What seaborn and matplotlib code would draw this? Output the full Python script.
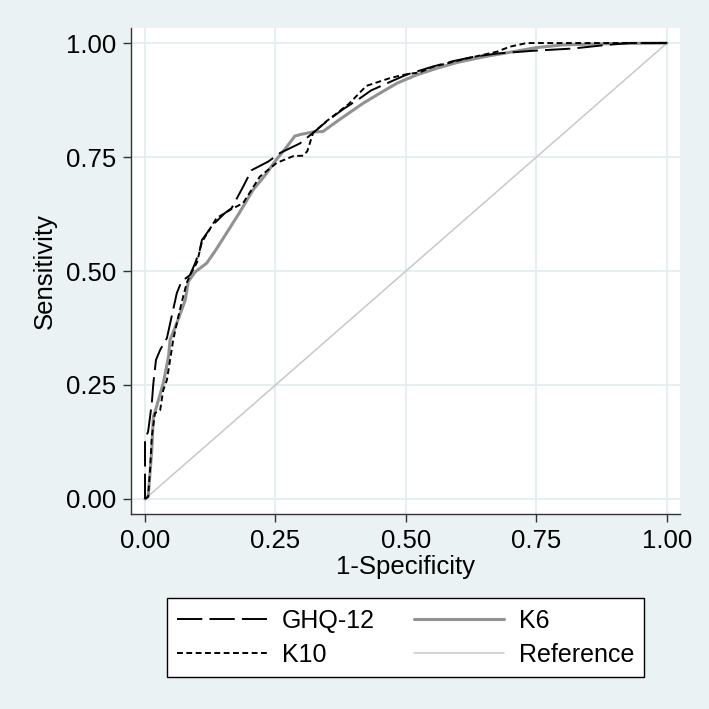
import numpy as np
import pandas as pd
import seaborn as sns
import matplotlib.pyplot as plt

# ROC points (1-specificity, sensitivity)
ghq_fpr = [0, 0, 0.006, 0.013, 0.016, 0.021, 0.029, 0.042, 0.051, 0.061, 0.07, 0.086, 0.096,
           0.105, 0.109, 0.13, 0.153, 0.166, 0.188, 0.204, 0.236, 0.259, 0.297, 0.322, 0.35,
           0.381, 0.412, 0.433, 0.47, 0.502, 0.55, 0.589, 0.63, 0.674, 0.743, 0.82, 0.885, 0.93, 1]
ghq_tpr = [0, 0.13, 0.148, 0.21, 0.254, 0.305, 0.327, 0.353, 0.40, 0.452, 0.477, 0.491, 0.517,
           0.546, 0.568, 0.601, 0.627, 0.638, 0.685, 0.721, 0.74, 0.759, 0.78, 0.803, 0.83,
           0.856, 0.879, 0.896, 0.915, 0.931, 0.948, 0.96, 0.97, 0.977, 0.983, 0.988, 0.996, 1.0, 1]

k10_fpr = [0, 0.006, 0.01, 0.013, 0.019, 0.029, 0.035, 0.042, 0.048, 0.054, 0.061, 0.07, 0.08,
           0.086, 0.1, 0.108, 0.115, 0.137, 0.163, 0.188, 0.22, 0.252, 0.284, 0.303, 0.311,
           0.322, 0.346, 0.39, 0.424, 0.469, 0.494, 0.527, 0.552, 0.616, 0.674, 0.699, 0.731, 1]
k10_tpr = [0, 0.005, 0.07, 0.137, 0.188, 0.195, 0.239, 0.261, 0.305, 0.349, 0.386, 0.43, 0.474,
           0.49, 0.52, 0.56, 0.575, 0.616, 0.634, 0.649, 0.707, 0.737, 0.752, 0.753, 0.763,
           0.803, 0.827, 0.866, 0.906, 0.923, 0.93, 0.936, 0.948, 0.966, 0.981, 0.992, 1.0, 1]

k6_fpr = [0, 0.006, 0.013, 0.016, 0.022, 0.035, 0.045, 0.048, 0.061, 0.077, 0.083, 0.096, 0.118,
          0.135, 0.16, 0.181, 0.207, 0.23, 0.252, 0.27, 0.287, 0.3, 0.322, 0.341, 0.37, 0.418,
          0.45, 0.483, 0.52, 0.56, 0.6, 0.65, 0.7, 0.75, 0.8, 0.9, 1]
k6_tpr = [0, 0.005, 0.107, 0.18, 0.202, 0.254, 0.312, 0.349, 0.386, 0.436, 0.477, 0.498, 0.517,
          0.545, 0.59, 0.628, 0.678, 0.71, 0.745, 0.77, 0.796, 0.80, 0.805, 0.806, 0.83, 0.868,
          0.89, 0.912, 0.93, 0.945, 0.958, 0.97, 0.98, 0.99, 0.996, 0.999, 1]

ref_fpr = [0, 1]
ref_tpr = [0, 1]

ticks = [0, 0.25, 0.5, 0.75, 1.0]
tick_labels = ["0.00", "0.25", "0.50", "0.75", "1.00"]

sns.set_theme(style="white")
plt.rcParams['font.family'] = ['Liberation Sans', 'DejaVu Sans']
plt.rcParams['text.color'] = 'black'
plt.rcParams['axes.labelcolor'] = 'black'
plt.rcParams['xtick.color'] = 'black'
plt.rcParams['ytick.color'] = 'black'

bg = '#EAF2F3'
fs = 18.5
fig = plt.figure(figsize=(7.09, 7.09), dpi=100, facecolor=bg)
ax = fig.add_axes([0.1848, 0.275, 0.7743, 0.6855])
ax.set_facecolor('white')

series = [
    ("Reference", ref_fpr, ref_tpr, '#c8c8c8', 1.1, None),
    ("K6", k6_fpr, k6_tpr, '#929292', 2.2, None),
    ("K10", k10_fpr, k10_tpr, 'black', 1.4, (3.0, 1.8)),
    ("GHQ-12", ghq_fpr, ghq_tpr, 'black', 1.4, (13, 3.7)),
]
for name, fx, fy, col, lw, dash in series:
    df = pd.DataFrame({"fpr": fx, "tpr": fy})
    kw = {}
    if dash is not None:
        kw["dashes"] = dash
    sns.lineplot(data=df, x="fpr", y="tpr", ax=ax, color=col, lw=lw, sort=False,
                 estimator=None, label=name, legend=False, **kw)

ax.set_xlim(-0.0268, 1.025)
ax.set_ylim(-0.033, 1.033)
ax.set_xticks(ticks)
ax.set_xticklabels(tick_labels)
ax.set_yticks(ticks)
ax.set_yticklabels(tick_labels)
ax.grid(True, color='#E3EDEF', lw=1.3)
ax.set_axisbelow(True)
for s in ['top', 'right']:
    ax.spines[s].set_visible(False)
for s in ['left', 'bottom']:
    ax.spines[s].set_color('#333333')
    ax.spines[s].set_linewidth(1.0)
ax.tick_params(axis='both', direction='out', length=6, width=1, color='#333333',
               labelcolor='black', labelsize=fs, pad=4.5, left=True, bottom=True)
ax.set_xlabel("1-Specificity", fontsize=fs)
ax.set_ylabel("Sensitivity", fontsize=fs)
ax.xaxis.set_label_coords(0.5, -0.085)
ax.yaxis.set_label_coords(-0.135, 0.5)

h, l = ax.get_legend_handles_labels()
hd = dict(zip(l, h))
order = ["GHQ-12", "K10", "K6", "Reference"]
leg = fig.legend([hd[k] for k in order], order, loc='center',
                 bbox_to_anchor=(0.235, 0.0437, 0.674, 0.1135), mode='expand', ncol=2,
                 fontsize=18, frameon=True, fancybox=False, edgecolor='black',
                 framealpha=1, borderaxespad=0, handlelength=3.6, handletextpad=0.6,
                 labelspacing=0.4, borderpad=0.42)
leg.get_frame().set_linewidth(1.0)

fig.savefig("out.png", dpi=100, facecolor=bg)
